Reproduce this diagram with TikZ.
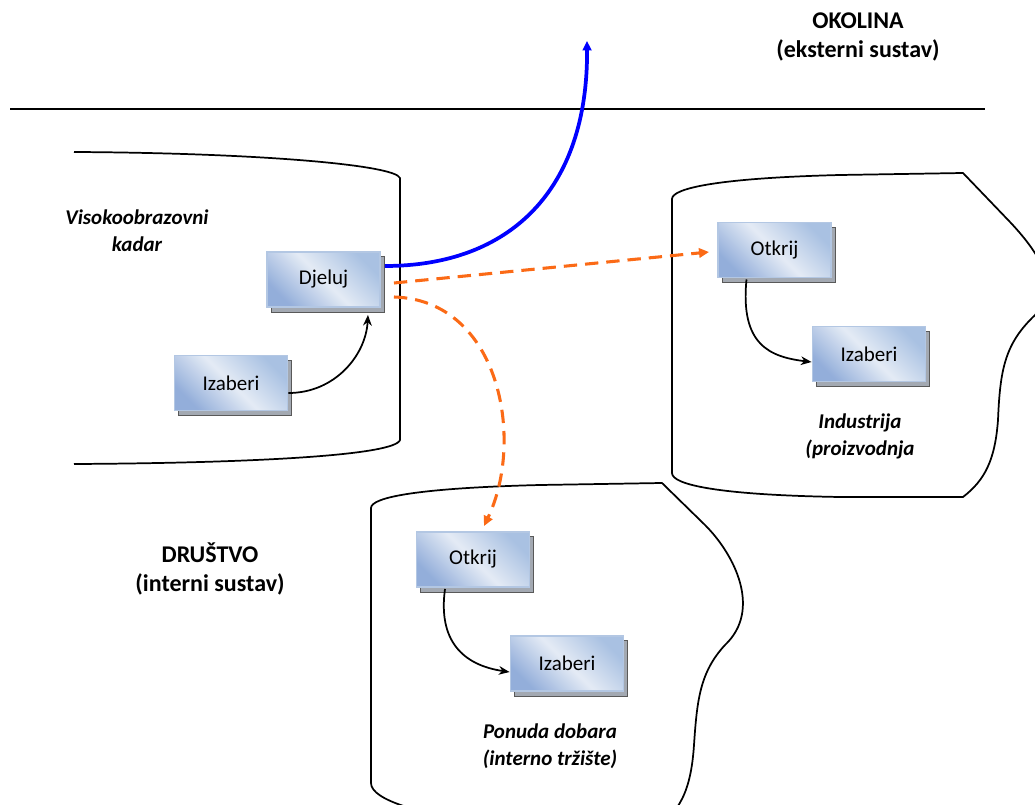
\documentclass[tikz,border=0pt]{standalone}
\usepackage{fontspec}
\setmainfont{Carlito}
\usetikzlibrary{arrows.meta,calc,shadows}
\definecolor{boxdark}{HTML}{93AEDA}
\definecolor{boxlight}{HTML}{E4EBF5}
\definecolor{boxmid}{HTML}{A9C1E2}
\definecolor{boxborder}{HTML}{B3C7E3}
\definecolor{shadowcol}{HTML}{A3A9B2}
\definecolor{orangearrow}{HTML}{FB6A16}
\tikzset{
  outline/.style={draw=black, line width=1.3pt},
  procbox/.style={draw=boxborder, line width=1.2pt, minimum width=85pt, minimum height=41.5pt, inner sep=0pt,
    shading=axis, bottom color=boxdark, top color=boxmid, middle color=boxlight, shading angle=-45,
    font=\fontsize{15.75}{19}\selectfont,
    drop shadow={shadow xshift=3pt, shadow yshift=-3.5pt, fill=shadowcol, draw=gray!70!black, line width=0.3pt, opacity=1}},
  boldlabel/.style={align=center, font=\fontsize{18}{21.75}\selectfont\bfseries},
  itlabel/.style={align=center, font=\fontsize{15.75}{20.25}\selectfont\bfseries\itshape},
  flow/.style={draw=black, line width=1.3pt, -{Stealth[length=8pt,width=6.5pt]}},
  bluearrow/.style={draw={rgb,255:red,0;green,0;blue,255}, line width=2.8pt, -{Triangle[length=7pt,width=6.5pt]}},
  orangedash/.style={draw=orangearrow, line width=2.3pt, dash pattern=on 10pt off 6pt, -{Triangle[length=7.5pt,width=7pt]}}
}
\begin{document}
\begin{tikzpicture}[x=0.75pt,y=-0.75pt]
\useasboundingbox (0,0) rectangle (1035,805);
\begin{scope}
\clip (0,0) rectangle (1035,805);
% separator line
\draw[outline] (10,109) -- (985,109);
% left region
\draw[outline] (74,152) .. controls (260,153) and (395,165) .. (400,178) -- (400,440)
  .. controls (395,455) and (260,463) .. (74,464);
% right region (Industrija)
\draw[outline] (672,473) -- (672,199) .. controls (672,188) and (720,178) .. (840,175) -- (963,173)
  -- (1010,222) .. controls (1042,256) and (1062,290) .. (1032,318)
  .. controls (1005,345) and (1000,370) .. (998,420) .. controls (995,460) and (985,480) .. (963,497)
  -- (840,497) .. controls (720,495) and (672,485) .. (672,473);
% bottom region (Ponuda dobara)
\draw[outline] (371,783) -- (371,508) .. controls (371,497) and (420,488) .. (540,485) -- (662,483)
  -- (705,525) .. controls (735,555) and (762,610) .. (725,645)
  .. controls (700,672) and (697,700) .. (694,745) .. controls (691,790) and (680,815) .. (650,830)
  -- (500,825) .. controls (420,815) and (371,800) .. (371,783);
\end{scope}
% texts
\node[boldlabel] (okolina) at (858,37) {OKOLINA\\(eksterni sustav)};
\node[boldlabel] (drustvo) at (210,569) {DRUŠTVO\\(interni sustav)};
\node[itlabel] (kadar) at (137,231) {Visokoobrazovni\\kadar};
\node[itlabel] (industrija) at (860,436) {Industrija\\(proizvodnja};
\node[itlabel] (ponuda) at (550,746) {Ponuda dobara\\(interno tržište)};
% boxes
\node[procbox] (dj) at (323.5,279.5) {Djeluj};
\node[procbox] (izL) at (231,383) {Izaberi};
\node[procbox] (otR) at (774.5,250) {Otkrij};
\node[procbox] (izR) at (869,354) {Izaberi};
\node[procbox] (otB) at (473,559.5) {Otkrij};
\node[procbox] (izB) at (567,663.5) {Izaberi};
% connectors
\draw[flow] ($(izL.east)+(0,10)$) .. controls (335,393) and (366,355) .. ($(dj.south east)+(-13,7)$);
\draw[flow] ($(otR.south)+(-28,1)$) .. controls (740,345) and (770,357) .. ($(izR.west)+(0,8)$);
\draw[flow] ($(otB.south)+(-28,1)$) .. controls (438,640) and (462,665) .. ($(izB.west)+(0,8.5)$);
\draw[bluearrow] ($(dj.east)+(4,-13.5)$) .. controls (510,266) and (588,190) .. (587,41);
\draw[orangedash] ($(dj.east)+(13,3.5)$) -- ($(otR.west)+(-8,2)$);
\draw[orangedash] ($(dj.east)+(13,17.5)$) .. controls (500,300) and (525,440) .. ($(otB.north)+(11,-5)$);
\end{tikzpicture}
\end{document}
